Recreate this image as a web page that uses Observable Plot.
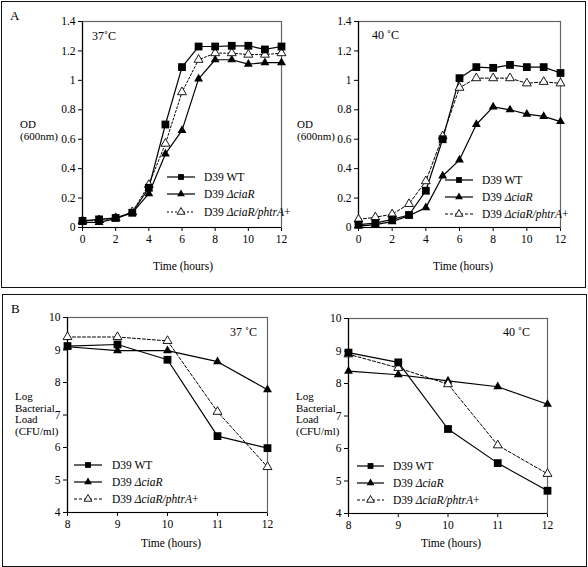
<!DOCTYPE html>
<html>
<head>
<meta charset="utf-8">
<script src="https://cdn.jsdelivr.net/npm/d3@7"></script>
<script src="https://cdn.jsdelivr.net/npm/@observablehq/plot@0.6"></script>
<style>
  html, body { margin: 0; padding: 0; background: #fff; }
  #fig { position: relative; width: 588px; height: 567px; font-family: "Liberation Serif", "DejaVu Serif", serif; color: #000; overflow: hidden; }
  .box { position: absolute; border: 1.5px solid #111; box-sizing: border-box; pointer-events: none; }
  .abs { position: absolute; }
  svg.plot { background: transparent !important; }
</style>
</head>
<body>
<div id="fig"></div>
<script>
// ---------- Data ----------
const seriesNames = ["D39 WT", "D39 ΔciaR", "D39 ΔciaR/phtrA+"];

// Panel A: growth curves, OD(600nm) vs time (hours)
const hoursA = [0, 1, 2, 3, 4, 5, 6, 7, 8, 9, 10, 11, 12];
const od37WT    = [0.045, 0.055, 0.065, 0.10, 0.27, 0.70, 1.09, 1.23, 1.23, 1.235, 1.235, 1.21, 1.23];
const od37Cia   = [0.035, 0.035, 0.06, 0.10, 0.23, 0.50, 0.66, 1.01, 1.14, 1.14, 1.11, 1.12, 1.12];
const od37Comp  = [0.045, 0.05, 0.065, 0.105, 0.29, 0.57, 0.92, 1.14, 1.185, 1.185, 1.175, 1.175, 1.185];
const od40WT    = [0.02, 0.03, 0.055, 0.085, 0.25, 0.60, 1.015, 1.09, 1.085, 1.105, 1.09, 1.09, 1.05];
const od40Cia   = [0.01, 0.02, 0.04, 0.08, 0.135, 0.35, 0.46, 0.70, 0.82, 0.80, 0.77, 0.755, 0.72];
const od40Comp  = [0.055, 0.07, 0.09, 0.16, 0.315, 0.62, 0.95, 1.015, 1.015, 1.015, 0.98, 0.99, 0.98];

// Panel B: Log bacterial load (CFU/ml) vs time (hours)
const hoursB = [8, 9, 10, 11, 12];
const cfu37WT   = [9.12, 9.17, 8.70, 6.35, 5.98];
const cfu37Cia  = [9.10, 8.98, 8.98, 8.64, 7.78];
const cfu37Comp = [9.40, 9.40, 9.28, 7.10, 5.40];
const cfu40WT   = [8.95, 8.65, 6.60, 5.55, 4.70];
const cfu40Cia  = [8.38, 8.27, 8.08, 7.90, 7.36];
const cfu40Comp = [8.90, 8.48, 7.98, 6.10, 5.22];

// Tick values
const ticksAx = [0, 2, 4, 6, 8, 10, 12];
const ticksAy = [0, 0.2, 0.4, 0.6, 0.8, 1, 1.2, 1.4];
const ticksBx = [8, 9, 10, 11, 12];
const ticksBy = [4, 5, 6, 7, 8, 9, 10];

// ---------- Helpers ----------
const fig = document.getElementById("fig");
const FONT = '"Liberation Serif", "DejaVu Serif", serif';

function rows(xs, ys) { return xs.map((x, i) => ({x, y: ys[i]})); }

function makePlot({left, top, width, height, ml, mr, mt, mb, xDom, yDom, xt, yt, wt, cia, comp, xs, dash}) {
  const dWT = rows(xs, wt), dCia = rows(xs, cia), dComp = rows(xs, comp);
  const p = Plot.plot({
    width, height,
    marginLeft: ml, marginRight: mr, marginTop: mt, marginBottom: mb,
    style: {background: "transparent", fontFamily: FONT, fontSize: "11.5px", color: "#000", overflow: "visible"},
    x: {domain: xDom, ticks: xt, tickFormat: d3.format("~g"), tickSize: 4, tickPadding: 3, label: null},
    y: {domain: yDom, ticks: yt, tickFormat: d3.format("~g"), tickSize: 4, tickPadding: 3, label: null},
    marks: [
      Plot.frame({stroke: "#666", strokeWidth: 1.2}),
      Plot.ruleX([xDom[0]], {stroke: "#000", strokeWidth: 1.2}),
      Plot.ruleY([yDom[0]], {stroke: "#000", strokeWidth: 1.2}),
      Plot.line(dComp, {x: "x", y: "y", stroke: "#000", strokeWidth: 1, strokeDasharray: dash}),
      Plot.line(dCia, {x: "x", y: "y", stroke: "#000", strokeWidth: 1.2}),
      Plot.line(dWT, {x: "x", y: "y", stroke: "#000", strokeWidth: 1.2}),
      Plot.dot(dCia, {x: "x", y: "y", symbol: "triangle", r: 3.3, fill: "#000", stroke: "none"}),
      Plot.dot(dComp, {x: "x", y: "y", symbol: "triangle", r: 3.3, fill: "#fff", stroke: "#000", strokeWidth: 0.9}),
      Plot.dot(dWT, {x: "x", y: "y", symbol: "square", r: 4.4, fill: "#000", stroke: "none"})
    ]
  });
  p.style.position = "absolute";
  p.style.left = left + "px";
  p.style.top = top + "px";
  p.style.maxWidth = "none";
  fig.appendChild(p);
}

function addText(txt, x, y, opts = {}) {
  const d = document.createElement("div");
  d.className = "abs";
  d.innerHTML = txt;
  d.style.left = x + "px";
  d.style.top = y + "px";
  d.style.fontSize = (opts.size || 11.5) + "px";
  d.style.lineHeight = (opts.lh || 1.0) + "";
  d.style.whiteSpace = "nowrap";
  if (opts.center) d.style.transform = "translateX(-50%)";
  fig.appendChild(d);
}

function addBox(l, t, r, b) {
  const d = document.createElement("div");
  d.className = "box";
  d.style.left = l + "px"; d.style.top = t + "px";
  d.style.width = (r - l) + "px"; d.style.height = (b - t) + "px";
  fig.appendChild(d);
}

const legendLabels = ["D39 WT", "D39 <i>ΔciaR</i>", "D39 <i>ΔciaR/phtrA</i>+"];
function addLegend(svg, x0, x1, tx, ys, dash) {
  const g = svg.append("g");
  const mid = (x0 + x1) / 2;
  const sym = [d3.symbolSquare, d3.symbolTriangle, d3.symbolTriangle];
  ys.forEach((y, i) => {
    g.append("line").attr("x1", x0).attr("x2", x1).attr("y1", y).attr("y2", y)
      .attr("stroke", "#000").attr("stroke-width", i === 2 ? 1 : 1.2)
      .attr("stroke-dasharray", i === 2 ? dash : null);
    g.append("path").attr("d", d3.symbol(sym[i], i === 0 ? 34 : 26)())
      .attr("transform", `translate(${mid},${y})`)
      .attr("fill", i === 2 ? "#fff" : "#000").attr("stroke", i === 2 ? "#000" : "none").attr("stroke-width", 0.9);
    const t = g.append("text").attr("x", tx).attr("y", y + 4).attr("font-size", 11.5)
      .attr("font-family", FONT);
    if (i === 0) t.text(seriesNames[0]);
    else {
      t.append("tspan").text("D39 ");
      if (i === 1) t.append("tspan").attr("font-style", "italic").text("ΔciaR");
      else {
        t.append("tspan").attr("font-style", "italic").text("ΔciaR/phtrA");
        t.append("tspan").text("+");
      }
    }
  });
}

// ---------- Plots ----------
makePlot({left: 0, top: 0, width: 290, height: 285, ml: 82, mr: 9, mt: 21, mb: 58,
  xDom: [0, 12], yDom: [0, 1.4], xt: ticksAx, yt: ticksAy,
  wt: od37WT, cia: od37Cia, comp: od37Comp, xs: hoursA, dash: "2,2"});
makePlot({left: 290, top: 0, width: 290, height: 285, ml: 68, mr: 20, mt: 21, mb: 58,
  xDom: [0, 12], yDom: [0, 1.4], xt: ticksAx, yt: ticksAy,
  wt: od40WT, cia: od40Cia, comp: od40Comp, xs: hoursA, dash: "3,2"});
makePlot({left: 0, top: 290, width: 290, height: 270, ml: 67, mr: 23, mt: 27, mb: 48,
  xDom: [8, 12], yDom: [4, 10], xt: ticksBx, yt: ticksBy,
  wt: cfu37WT, cia: cfu37Cia, comp: cfu37Comp, xs: hoursB, dash: "3,2"});
makePlot({left: 290, top: 290, width: 290, height: 270, ml: 58, mr: 33, mt: 28, mb: 47,
  xDom: [8, 12], yDom: [4, 10], xt: ticksBx, yt: ticksBy,
  wt: cfu40WT, cia: cfu40Cia, comp: cfu40Comp, xs: hoursB, dash: "3,2"});

// ---------- Legends (overlay svg) ----------
const overlay = d3.select(fig).append("svg")
  .attr("width", 588).attr("height", 567)
  .style("position", "absolute").style("left", "0px").style("top", "0px")
  .style("overflow", "visible").style("pointer-events", "none");
addLegend(overlay, 167, 195, 204, [177, 194, 212], "2,2");
addLegend(overlay, 445, 473, 482, [180, 197, 214], "3,2");
addLegend(overlay, 74, 102, 112, [465, 482, 499], "3,2");
addLegend(overlay, 357, 384, 393, [466, 483, 500], "3,2");

// ---------- Text labels ----------
addText("A", 10, 9, {size: 13});
addText("B", 11, 302, {size: 13});
addText("37˚C", 92, 30, {size: 12});
addText("40 ˚C", 372, 29, {size: 12});
addText("37 ˚C", 230, 326, {size: 12});
addText("40 ˚C", 503, 326, {size: 12});
addText("OD<br>(600nm)", 20, 119, {size: 11, lh: 1.05});
addText("OD<br>(600nm)", 297, 119, {size: 11, lh: 1.05});
addText("Log<br>Bacterial<br>Load<br>(CFU/ml)", 15, 391, {size: 11, lh: 1.06});
addText("Log<br>Bacterial<br>Load<br>(CFU/ml)", 296, 391, {size: 11, lh: 1.06});
addText("Time (hours)", 183, 261, {size: 11.5, center: true});
addText("Time (hours)", 463, 261, {size: 11.5, center: true});
addText("Time (hours)", 171, 538, {size: 11.5, center: true});
addText("Time (hours)", 451, 538, {size: 11.5, center: true});

// ---------- Panel boxes ----------
addBox(1, 1, 586, 288);
addBox(2, 294, 587, 567);
</script>
</body>
</html>
